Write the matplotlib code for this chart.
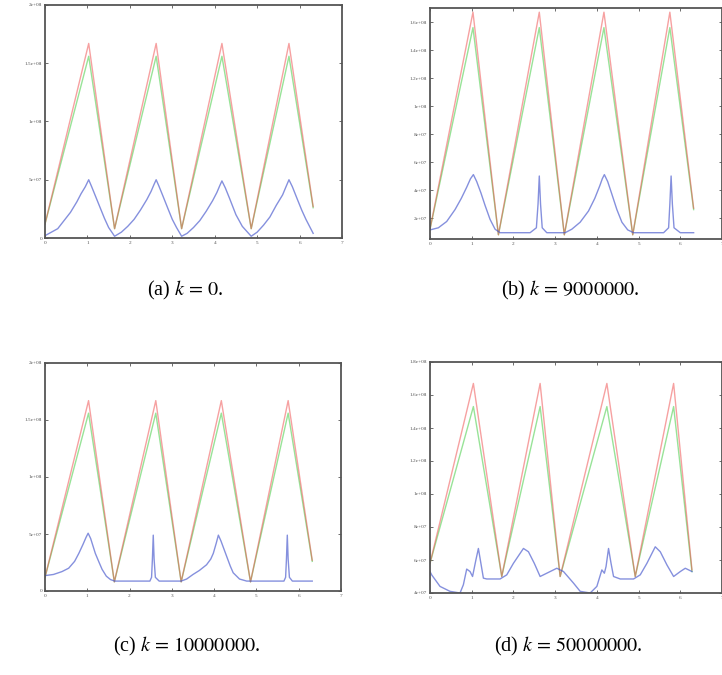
import matplotlib
matplotlib.use("Agg")
import matplotlib.pyplot as plt

plt.rcParams['font.family'] = ['Liberation Serif', 'DejaVu Serif']
plt.rcParams['mathtext.fontset'] = 'stix'

# red / green triangle vertices, panels a, b, c
tri_x = [0, 1.03, 1.64, 2.62, 3.22, 4.17, 4.86, 5.75, 6.32]
red_abc = [1.2e7, 1.67e8, 0.8e7, 1.67e8, 0.8e7, 1.67e8, 0.8e7, 1.67e8, 2.7e7]
green_abc = [1.2e7, 1.56e8, 0.8e7, 1.56e8, 0.8e7, 1.56e8, 0.8e7, 1.56e8, 2.6e7]

# panel d triangles
tri_x_d = [0, 1.04, 1.72, 2.64, 3.12, 4.24, 4.92, 5.84, 6.28]
red_d = [5.8e7, 1.67e8, 5.0e7, 1.67e8, 5.0e7, 1.67e8, 5.0e7, 1.67e8, 5.4e7]
green_d = [5.8e7, 1.53e8, 5.0e7, 1.53e8, 5.0e7, 1.53e8, 5.0e7, 1.53e8, 5.3e7]

# blue series
bx_a = [0, 0.15, 0.3, 0.45, 0.6, 0.75, 0.85, 0.95, 1.03, 1.1, 1.2, 1.3, 1.4, 1.5, 1.64,
        1.8, 1.95, 2.1, 2.25, 2.4, 2.5, 2.57, 2.62, 2.68, 2.78, 2.9, 3.0, 3.1, 3.22,
        3.35, 3.5, 3.65, 3.8, 3.95, 4.05, 4.12, 4.17, 4.25, 4.35, 4.5, 4.65, 4.86,
        5.0, 5.15, 5.3, 5.45, 5.6, 5.68, 5.75, 5.83, 5.95, 6.05, 6.15, 6.32]
by_a = [0.2e7, 0.5e7, 0.8e7, 1.5e7, 2.2e7, 3.1e7, 3.8e7, 4.4e7, 5.0e7, 4.4e7, 3.5e7, 2.6e7, 1.7e7, 0.9e7, 0.15e7,
        0.5e7, 1.0e7, 1.6e7, 2.4e7, 3.3e7, 4.0e7, 4.6e7, 5.0e7, 4.5e7, 3.6e7, 2.5e7, 1.6e7, 0.9e7, 0.15e7,
        0.4e7, 0.9e7, 1.5e7, 2.3e7, 3.2e7, 3.9e7, 4.5e7, 4.9e7, 4.3e7, 3.4e7, 2.0e7, 1.0e7, 0.15e7,
        0.5e7, 1.1e7, 1.8e7, 2.8e7, 3.7e7, 4.4e7, 5.0e7, 4.4e7, 3.3e7, 2.4e7, 1.6e7, 0.4e7]

bx_b = [0, 0.2, 0.4, 0.6, 0.75, 0.88, 0.97, 1.04, 1.12, 1.22, 1.32, 1.44, 1.56, 1.68,
        2.4, 2.55, 2.59, 2.62, 2.65, 2.69, 2.8, 3.24, 3.4, 3.6, 3.8, 3.95, 4.07, 4.13,
        4.18, 4.26, 4.36, 4.48, 4.6, 4.74, 4.88, 5.6, 5.72, 5.75, 5.78, 5.81, 5.85, 6.0, 6.32]
by_b = [1.15e7, 1.3e7, 1.75e7, 2.6e7, 3.4e7, 4.2e7, 4.8e7, 5.1e7, 4.6e7, 3.8e7, 2.9e7, 1.9e7, 1.2e7, 0.95e7,
        0.95e7, 1.3e7, 3.0e7, 5.0e7, 3.0e7, 1.3e7, 0.95e7, 0.95e7, 1.2e7, 1.7e7, 2.5e7, 3.4e7, 4.3e7, 4.8e7,
        5.1e7, 4.6e7, 3.7e7, 2.6e7, 1.7e7, 1.15e7, 0.95e7, 0.95e7, 1.3e7, 3.0e7, 5.0e7, 3.0e7, 1.3e7, 0.95e7, 0.95e7]

bx_c = [0, 0.2, 0.4, 0.56, 0.7, 0.8, 0.9, 0.97, 1.02, 1.08, 1.19, 1.28, 1.35, 1.45, 1.55, 1.65,
        2.48, 2.52, 2.54, 2.56, 2.58, 2.61, 2.7, 3.22, 3.35, 3.5, 3.65, 3.82, 3.92, 3.98,
        4.05, 4.1, 4.16, 4.3, 4.38, 4.45, 4.6, 4.77, 5.65, 5.69, 5.71, 5.73, 5.75, 5.78, 5.85, 6.32]
by_c = [1.35e7, 1.45e7, 1.7e7, 2.0e7, 2.6e7, 3.3e7, 4.1e7, 4.7e7, 5.07e7, 4.6e7, 3.3e7, 2.5e7, 1.9e7, 1.3e7, 1.0e7, 0.87e7,
        0.87e7, 1.2e7, 2.8e7, 4.9e7, 2.8e7, 1.2e7, 0.87e7, 0.87e7, 1.05e7, 1.45e7, 1.8e7, 2.3e7, 2.8e7, 3.3e7,
        4.2e7, 4.9e7, 4.4e7, 3.0e7, 2.2e7, 1.6e7, 1.05e7, 0.87e7, 0.87e7, 1.2e7, 2.8e7, 4.9e7, 2.8e7, 1.2e7, 0.87e7, 0.87e7]

bx_d = [0, 0.04, 0.24, 0.48, 0.72, 0.8, 0.88, 0.96, 1.02, 1.1, 1.16, 1.22, 1.28, 1.36, 1.68,
        1.84, 2.0, 2.24, 2.36, 2.5, 2.64, 2.8, 3.04, 3.2, 3.44, 3.6, 3.84, 4.0, 4.12, 4.18,
        4.22, 4.28, 4.34, 4.4, 4.56, 4.88, 5.04, 5.2, 5.4, 5.52, 5.68, 5.84, 6.0, 6.12, 6.28]
by_d = [5.3e7, 5.1e7, 4.4e7, 4.1e7, 4.0e7, 4.5e7, 5.45e7, 5.3e7, 5.0e7, 6.0e7, 6.7e7, 5.8e7, 4.9e7, 4.85e7, 4.85e7,
        5.1e7, 5.8e7, 6.7e7, 6.5e7, 5.8e7, 5.0e7, 5.2e7, 5.5e7, 5.3e7, 4.6e7, 4.1e7, 4.0e7, 4.4e7, 5.4e7, 5.2e7,
        5.6e7, 6.7e7, 5.8e7, 5.0e7, 4.85e7, 4.85e7, 5.1e7, 5.8e7, 6.8e7, 6.5e7, 5.7e7, 5.0e7, 5.3e7, 5.5e7, 5.3e7]

xticks = [0, 1, 2, 3, 4, 5, 6, 7]
xlabels = ['0', '1', '2', '3', '4', '5', '6', '7']
yt_ac = [0, 5e7, 1e8, 1.5e8, 2e8]
yl_ac = ['0', '5e+07', '1e+08', '1.5e+08', '2e+08']
yt_b = [2e7, 4e7, 6e7, 8e7, 1e8, 1.2e8, 1.4e8, 1.6e8]
yl_b = ['2e+07', '4e+07', '6e+07', '8e+07', '1e+08', '1.2e+08', '1.4e+08', '1.6e+08']
yt_d = [4e7, 6e7, 8e7, 1e8, 1.2e8, 1.4e8, 1.6e8, 1.8e8]
yl_d = ['4e+07', '6e+07', '8e+07', '1e+08', '1.2e+08', '1.4e+08', '1.6e+08', '1.8e+08']

captions = [r'(a) $k\,=\,0$.', r'(b) $k\,=\,9000000$.',
            r'(c) $k\,=\,10000000$.', r'(d) $k\,=\,50000000$.']

W, H = 722, 675
fig = plt.figure(figsize=(W / 100, H / 100), dpi=100)


def box(l, t, r, b):
    return [l / W, 1 - b / H, (r - l) / W, (b - t) / H]


panels = [
    (box(45, 5, 342, 238), tri_x, red_abc, green_abc, bx_a, by_a, yt_ac, yl_ac, (0, 2e8)),
    (box(430, 8, 722, 239), tri_x, red_abc, green_abc, bx_b, by_b, yt_b, yl_b, (5e6, 1.7e8)),
    (box(45, 363, 341, 591), tri_x, red_abc, green_abc, bx_c, by_c, yt_ac, yl_ac, (0, 2e8)),
    (box(430, 362, 722, 593), tri_x_d, red_d, green_d, bx_d, by_d, yt_d, yl_d, (4e7, 1.8e8)),
]

for pos, tx, rd, gr, bx, by, yt, yl, ylim in panels:
    ax = fig.add_axes(pos)
    ax.plot(tx, gr, color='#44cc44', lw=1.0, alpha=0.55)
    ax.plot(tx, rd, color='#ee4444', lw=1.0, alpha=0.5)
    ax.plot(bx, by, color='#4455cc', lw=1.0, alpha=0.65)
    ax.set_xlim(0, 7)
    ax.set_ylim(*ylim)
    ax.set_xticks(xticks)
    ax.set_xticklabels(xlabels)
    ax.set_yticks(yt)
    ax.set_yticklabels(yl)
    ax.tick_params(direction='in', length=2.5, width=0.6, labelsize=3.8,
                   top=True, right=True, colors='#555555', pad=2)
    for s in ax.spines.values():
        s.set_linewidth(1.3)
        s.set_color('#555555')

fig.text(185 / W, 1 - 290 / H, captions[0], ha='center', va='center', fontsize=14.5)
fig.text(570 / W, 1 - 290 / H, captions[1], ha='center', va='center', fontsize=14.5)
fig.text(186 / W, 1 - 646 / H, captions[2], ha='center', va='center', fontsize=14.5)
fig.text(568 / W, 1 - 646 / H, captions[3], ha='center', va='center', fontsize=14.5)

fig.savefig('out.png', dpi=100)
